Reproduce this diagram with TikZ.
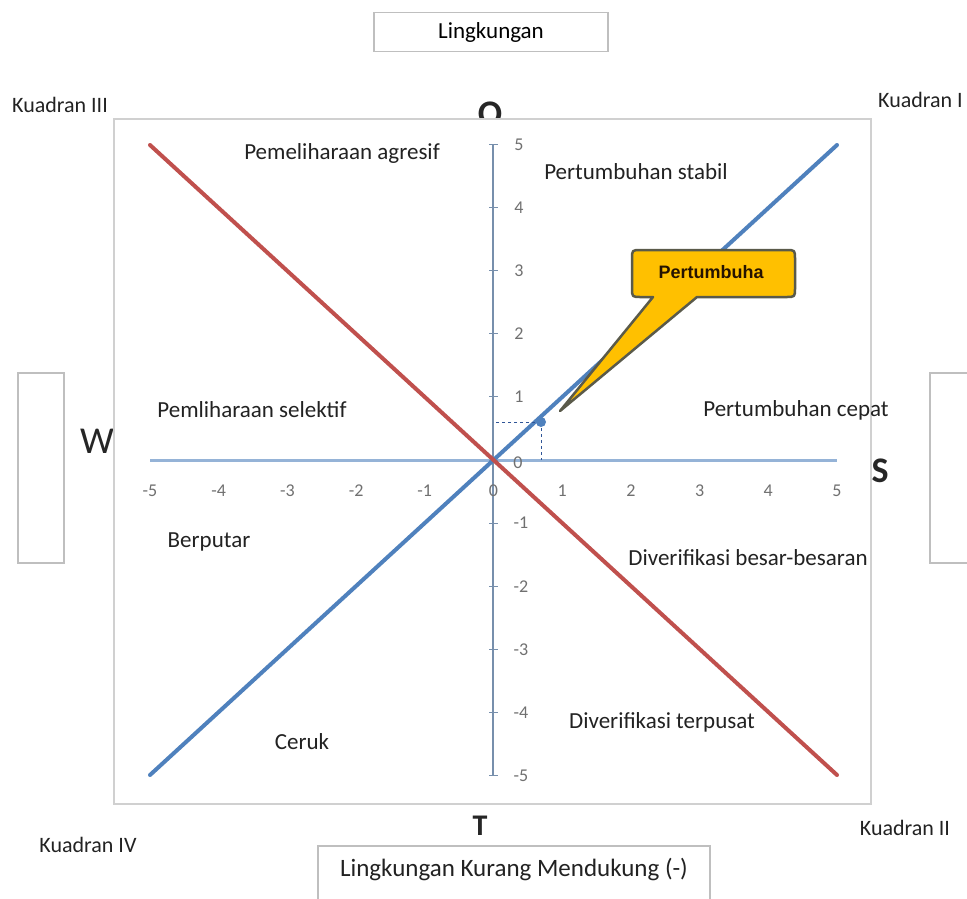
\documentclass[tikz,border=0pt]{standalone}
\usepackage{fontspec}
\setmainfont{Carlito}
\newfontfamily\calloutfont{Liberation Sans}
\definecolor{frameGray}{HTML}{D0D0D0}
\definecolor{boxGray}{HTML}{BFBFBF}
\definecolor{axisBlue}{HTML}{95B3D7}
\definecolor{lineBlue}{HTML}{4F81BD}
\definecolor{lineRed}{HTML}{C0504D}
\definecolor{calloutFill}{HTML}{FFC000}
\definecolor{calloutEdge}{HTML}{5A5A4A}
\definecolor{textDark}{HTML}{222222}
\definecolor{tickGray}{HTML}{707070}
\definecolor{dashBlue}{HTML}{2F5597}
\tikzset{
  lbl/.style={font=\fontsize{23}{27}\selectfont, text=textDark, inner sep=0pt},
  quad/.style={font=\fontsize{22}{26}\selectfont, text=textDark, inner sep=0pt},
  bigletter/.style={font=\bfseries\fontsize{36}{40}\selectfont, text=black!85, inner sep=0pt},
  ticklbl/.style={font=\fontsize{18}{21}\selectfont, text=tickGray, inner sep=0pt},
  infobox/.style={draw=boxGray, line width=1.5pt, fill=white, inner sep=0pt},
  plotframe/.style={draw=frameGray, line width=1.5pt, fill=white},
  diag/.style={line width=4pt, line cap=round},
  callout/.style={fill=calloutFill, draw=calloutEdge, line width=2.5pt, line join=round}
}
\begin{document}
\begin{tikzpicture}[x=1pt, y=-1pt]
\useasboundingbox (0,0) rectangle (967,898);

% side headings, partly hidden behind the plot area
\node[bigletter] (lO) at (490,114) {O};
\node[bigletter, font=\fontsize{38}{42}\selectfont] (lW) at (97,441) {W};
\node[bigletter] (lS) at (880,471) {S};
\node[bigletter, font=\bfseries\fontsize{30}{34}\selectfont] (lT) at (480,826) {T};

% plot area
\node[plotframe, minimum width=757pt, minimum height=685pt, anchor=north west] (plot) at (113,118) {};

% outer labelled boxes
\node[infobox, minimum width=234pt, minimum height=39pt, font=\fontsize{23}{27}\selectfont] (top) at (491,32) {Lingkungan};
\node[infobox, minimum width=392pt, minimum height=62pt, anchor=north] (bottom) at (514,845) {};
\node[lbl, font=\fontsize{25}{29}\selectfont] (bottomtxt) at (514,869) {Lingkungan Kurang Mendukung (-)};
\node[infobox, minimum width=46pt, minimum height=190pt] (leftbox) at (41,468) {};
\node[infobox, minimum width=60pt, minimum height=190pt, anchor=west] (rightbox) at (929,468) {};

% quadrant names
\node[quad] (q3) at (60,105) {Kuadran III};
\node[quad, anchor=west] (q1) at (878,100) {Kuadran I};
\node[quad] (q4) at (88,845) {Kuadran IV};
\node[quad] (q2) at (905,828) {Kuadran II};

% axes
\coordinate (xl) at (150,460);
\coordinate (xr) at (837,460);
\coordinate (yt) at (493,145);
\coordinate (yb) at (493,776);
\draw[axisBlue, line width=3pt] (xl) -- (xr);
\draw[axisBlue!80!black, line width=1.5pt] (yt) -- (yb);
\foreach \v in {-5,...,5} {
  \draw[axisBlue!80!black, line width=1pt] (489,460-63.1*\v) -- (498,460-63.1*\v);
}
% tick labels
\foreach \v in {1,...,5} {
  \node[ticklbl] at (519,460-63.1*\v) {\v};
  \node[ticklbl] at (521,460+63.1*\v) {-\v};
}
\node[ticklbl] at (518,463) {0};
\foreach \v in {-5,...,5} {
  \node[ticklbl] at (493.5+68.7*\v,491) {\v};
}

% diagonals
\coordinate (bl) at (150,775);
\coordinate (tr) at (837,145);
\coordinate (tl) at (150,145);
\coordinate (br) at (837,775);
\draw[diag, lineBlue] (bl) -- (tr);
\draw[diag, lineRed] (tl) -- (br);

% marked point with guide lines
\coordinate (pt) at (541,422);
\coordinate (py) at (493,422);
\coordinate (px) at (541,460);
\draw[dashBlue, dashed, line width=1pt] (pt) -- (py);
\draw[dashBlue, dashed, line width=1pt] (pt) -- (px);
\fill[lineBlue] (pt) circle (5pt);

% quadrant strategies
\node[lbl] (a1) at (342,153) {Pemeliharaan agresif};
\node[lbl] (a2) at (636,172) {Pertumbuhan stabil};
\node[lbl] (a3) at (252,410) {Pemliharaan selektif};
\node[lbl] (a4) at (796,410) {Pertumbuhan cepat};
\node[lbl] (a5) at (209,542) {Berputar};
\node[lbl] (a6) at (748,558) {Diverifikasi besar-besaran};
\node[lbl] (a7) at (302,742) {Ceruk};
\node[lbl] (a8) at (662,722) {Diverifikasi terpusat};

% callout
\draw[callout] (653,297) -- (560,411) -- (697,297) -- (786,297)
  .. controls (795,297) .. (795,288) -- (795,259)
  .. controls (795,250) .. (786,250) -- (641,250)
  .. controls (632,250) .. (632,259) -- (632,288)
  .. controls (632,297) .. (641,297) -- cycle;
\node[font=\calloutfont\bfseries\fontsize{18}{21}\selectfont, text=black!85!orange, inner sep=0pt] (ctext) at (711,272) {Pertumbuha};
\end{tikzpicture}
\end{document}
